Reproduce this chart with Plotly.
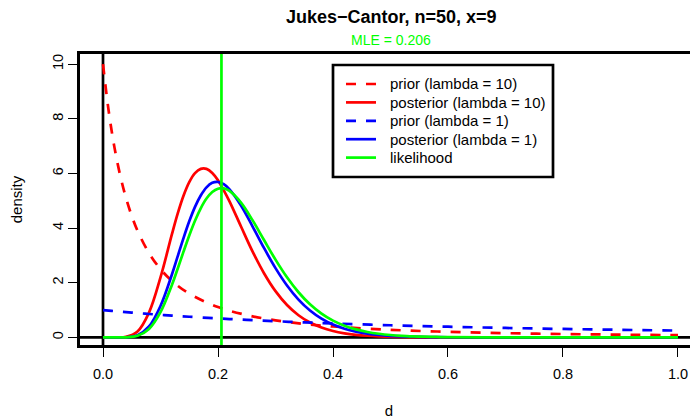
import plotly.graph_objects as go

# ---- data ----
d_prior = [0, 0.01, 0.02, 0.03, 0.04, 0.05, 0.06, 0.08, 0.10, 0.12, 0.15, 0.20,
           0.25, 0.30, 0.35, 0.40, 0.50, 0.60, 0.70, 0.80, 0.90, 1.00]
prior_l10 = [10.0, 8.264, 6.944, 5.917, 5.102, 4.444, 3.906, 3.086, 2.5, 2.066, 1.6, 1.111,
             0.816, 0.625, 0.494, 0.4, 0.278, 0.204, 0.156, 0.123, 0.1, 0.083]
prior_l1 = [1.0, 0.980, 0.961, 0.943, 0.925, 0.907, 0.890, 0.857, 0.826, 0.797, 0.756, 0.694,
            0.64, 0.592, 0.549, 0.510, 0.444, 0.391, 0.346, 0.309, 0.277, 0.25]

d_post = [0.00, 0.02, 0.04, 0.06, 0.08, 0.10, 0.12, 0.13, 0.14, 0.15, 0.16, 0.17, 0.18,
          0.19, 0.20, 0.21, 0.22, 0.24, 0.26, 0.28, 0.30, 0.32, 0.34, 0.36, 0.38, 0.40,
          0.42, 0.44, 0.46, 0.48, 0.50, 0.52, 0.54, 0.56, 0.58, 0.60, 0.70, 0.80, 0.90, 1.00]
post_l10 = [0, 0, 0.0185, 0.2156, 0.9073, 2.1953, 3.7858, 4.536, 5.1814, 5.681, 6.0108,
            6.166, 6.1658, 6.019, 5.7527, 5.38, 4.9789, 4.0582, 3.1493, 2.3481, 1.6923,
            1.1860, 0.8118, 0.5445, 0.3592, 0.2337, 0.1502, 0.0956, 0.0604, 0.0379, 0.0235,
            0.0146, 0.0090, 0.0054, 0.0033, 0.0019, 0.0001, 0, 0, 0]
post_l1 = [0, 0, 0.0053, 0.0777, 0.3987, 1.1479, 2.3106, 2.972, 3.6325, 4.247, 4.7766,
           5.194, 5.4915, 5.655, 5.6872, 5.605, 5.4184, 4.8261, 4.0665, 3.2736, 2.5343,
           1.8992, 1.3845, 0.9853, 0.6875, 0.4714, 0.3187, 0.2126, 0.1405, 0.0921, 0.0595,
           0.0384, 0.0247, 0.0155, 0.0096, 0.0059, 0.0005, 0, 0, 0]
likelihood = [0, 0, 0.0038, 0.058, 0.309, 0.923, 1.926, 2.522, 3.137, 3.732, 4.271,
              4.725, 5.081, 5.321, 5.442, 5.453, 5.359, 4.931, 4.290, 3.564, 2.846,
              2.199, 1.652, 1.211, 0.870, 0.614, 0.427, 0.293, 0.199, 0.134, 0.089,
              0.059, 0.039, 0.025, 0.016, 0.010, 0.001, 0, 0, 0]
mle = 0.206

x_ticks = [0, 0.2, 0.4, 0.6, 0.8, 1.0]
x_tick_labels = ["0.0", "0.2", "0.4", "0.6", "0.8", "1.0"]
y_ticks = [0, 2, 4, 6, 8, 10]
y_tick_labels = ["0", "2", "4", "6", "8", "10"]

FONT = "Liberation Sans, Arial, Helvetica, sans-serif"
LW = 2.7
RED, BLUE, GREEN = "#FF0000", "#0000FF", "#00FF00"
DASH = "10px,10px"

series = [
    ("prior (lambda = 10)", d_prior, prior_l10, RED, DASH),
    ("posterior (lambda = 10)", d_post, post_l10, RED, "solid"),
    ("prior (lambda = 1)", d_prior, prior_l1, BLUE, DASH),
    ("posterior (lambda = 1)", d_post, post_l1, BLUE, "solid"),
    ("likelihood", d_post, likelihood, GREEN, "solid"),
]

fig = go.Figure()
for name, xs, ys, col, dash in series:
    fig.add_trace(go.Scatter(x=xs, y=ys, mode="lines", name=name, showlegend=False,
                             line=dict(color=col, width=LW, dash=dash,
                                       shape="spline", smoothing=1.0)))

# reference lines
fig.add_shape(type="line", xref="x", yref="paper", x0=0, x1=0, y0=0, y1=1,
              line=dict(color="black", width=LW), layer="below")
fig.add_shape(type="line", xref="paper", yref="y", x0=0, x1=1, y0=0, y1=0,
              line=dict(color="black", width=LW), layer="below")
fig.add_shape(type="line", xref="x", yref="paper", x0=mle, x1=mle, y0=0, y1=1,
              line=dict(color=GREEN, width=LW), layer="above")

# ---- manual legend (page pixel geometry converted to paper coords) ----
L_, T_, PW, PH = 80, 54, 618, 291
def px(xp):
    return (xp - L_) / PW
def py(yp):
    return (T_ + PH - yp) / PH

fig.add_shape(type="rect", xref="paper", yref="paper",
              x0=px(333), x1=px(553), y0=py(177), y1=py(65),
              line=dict(color="black", width=2.7), fillcolor="white", layer="above")
row_y = [84, 102.4, 120.8, 139.2, 157.6]
for (name, xs, ys, col, dash), ry in zip(series, row_y):
    fig.add_shape(type="line", xref="paper", yref="paper",
                  x0=px(346), x1=px(376), y0=py(ry), y1=py(ry),
                  line=dict(color=col, width=LW, dash=dash), layer="above")
    fig.add_annotation(text=name, xref="paper", yref="paper", x=px(388), y=py(ry),
                       xanchor="left", yanchor="middle", showarrow=False,
                       font=dict(family=FONT, size=15, color="black"))

fig.add_annotation(text="Jukes\u2212Cantor, n=50, x=9", xref="paper", yref="paper",
                   x=px(391), y=1, yshift=37, xanchor="center", yanchor="middle",
                   showarrow=False,
                   font=dict(family=FONT, size=18, color="black", weight="bold"))
fig.add_annotation(text="MLE = %.3f" % mle, xref="paper", yref="paper",
                   x=px(391), y=1, yshift=14, xanchor="center", yanchor="middle",
                   showarrow=False,
                   font=dict(family=FONT, size=14, color=GREEN))

# the page body has an 8px margin, so the figure is 8px smaller and margins shifted
fig.update_layout(
    width=690, height=412,
    margin=dict(l=72, r=0, t=46, b=75),
    paper_bgcolor="white", plot_bgcolor="white",
    font=dict(family=FONT, size=15, color="black"),
    showlegend=False,
    xaxis=dict(range=[-0.04, 1.0348], showgrid=False, zeroline=False, automargin=False,
               tickvals=x_ticks, ticktext=x_tick_labels, ticks="outside",
               ticklen=9, tickwidth=1.3, tickcolor="black",
               showline=True, linecolor="black", linewidth=LW, mirror=True,
               tickfont=dict(size=14.5), ticklabelstandoff=5,
               title=dict(text="d", font=dict(size=15), standoff=25)),
    yaxis=dict(range=[-0.278, 10.37], showgrid=False, zeroline=False, automargin=False,
               tickvals=y_ticks, ticktext=y_tick_labels, ticks="outside",
               ticklen=9, tickwidth=1.3, tickcolor="black", tickangle=-90,
               showline=True, linecolor="black", linewidth=LW,
               tickfont=dict(size=14.5), ticklabelstandoff=-1,
               title=dict(text="density", font=dict(size=15), standoff=30)),
)

fig.write_html("out.html")
